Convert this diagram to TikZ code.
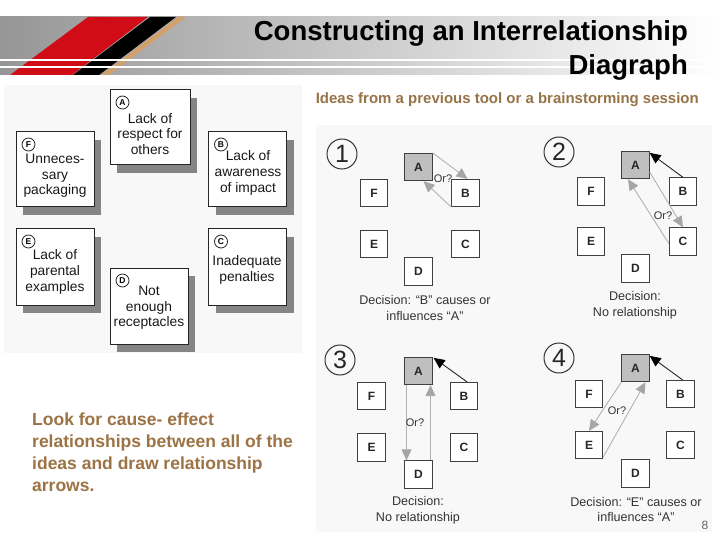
\documentclass[tikz,border=0pt]{standalone}
\usepackage{fontspec}
\setmainfont{Liberation Sans}
\usetikzlibrary{arrows.meta,shadows,calc}
\definecolor{brownt}{RGB}{155,115,68}
\definecolor{subbrown}{RGB}{150,116,72}
\definecolor{panelbg}{RGB}{248,248,248}
\definecolor{redst}{RGB}{208,12,22}
\definecolor{tanst}{RGB}{210,160,110}
\definecolor{bandgray}{RGB}{150,150,150}
\begin{document}
\begin{tikzpicture}[x=1pt,y=-1pt,
  card/.style={draw=black!85, line width=1, fill=white, minimum width=78, minimum height=76, inner sep=0,
    drop shadow={shadow xshift=7pt, shadow yshift=-8pt, fill=black!48, opacity=1}},
  cardtxt/.style={align=center, inner sep=0, text=black!90, font=\fontsize{13.8}{15.6}\selectfont},
  letcirc/.style={circle, draw=black!85, line width=0.8, minimum size=13, inner sep=0, font=\bfseries\fontsize{8.5}{8.5}\selectfont},
  sbox/.style={draw=black!75, line width=0.8, fill=white, minimum width=27.5, minimum height=27.5, inner sep=0,
    font=\bfseries\fontsize{12}{12}\selectfont, text=black!85},
  abox/.style={sbox, fill=black!25},
  numcirc/.style={circle, draw=black!80, line width=1, minimum size=30, inner sep=0, font=\fontsize{25}{25}\selectfont, text=black!85},
  garrow/.style={draw=black!30, line width=0.9, -{Triangle[length=11pt,width=10pt,color=black!35,fill=black!35]}},
  barrow/.style={draw=black!85, line width=0.9, -{Triangle[length=11pt,width=10pt,color=black,fill=black]}},
  ortext/.style={inner sep=0, font=\fontsize{11}{11}\selectfont, text=black!80},
  dectext/.style={align=center, inner sep=0, font=\fontsize{12.6}{15.5}\selectfont, text=black!80}
]
\useasboundingbox (0,0) rectangle (720,540);
\fill[white] (0,0) rectangle (720,540);

% header band
\shade[left color=bandgray, right color=white] (0,17) rectangle (720,75);
\fill[redst] (88,17) -- (148,17) -- (72,75) -- (10,75) -- cycle;
\fill[black] (150,17) -- (176,17) -- (99,75) -- (73,75) -- cycle;
\fill[tanst] (178,17) -- (186,17) -- (109,75) -- (101,75) -- cycle;
\draw[white, line width=1.6] (0,60) -- (720,60);
\draw[white, line width=1.6] (0,67) -- (720,67);
\node[anchor=base east, inner sep=0, font=\bfseries\fontsize{27.5}{27.5}\selectfont] (title1) at (688,41) {Constructing an Interrelationship};
\node[anchor=base east, inner sep=0, font=\bfseries\fontsize{27.5}{27.5}\selectfont] (title2) at (688,75) {Diagraph};
\node[anchor=base east, inner sep=0, text=subbrown, font=\bfseries\fontsize{12}{12}\selectfont] (sub) at (699,104)
  {\resizebox{383pt}{!}{Ideas from a previous tool or a brainstorming session}};

% panel backgrounds
\fill[panelbg] (4,85) rectangle (302,353);
\fill[panelbg] (316,125) rectangle (712,532);

% cards
\node[card] (cA) at (150,127.5) [minimum width=80, minimum height=75] {};
\node[card] (cF) at (55,169.5) [minimum height=75] {};
\node[card] (cB) at (247.5,169.5) [minimum height=75] {};
\node[card] (cE) at (55,267) {};
\node[card] (cC) at (247.5,267) {};
\node[card] (cD) at (149,306) {};

\node[letcirc] (lA) at ($(cA.north west)+(13,13)$) {A};
\node[letcirc] (lF) at ($(cF.north west)+(13,13)$) {F};
\node[letcirc] (lB) at ($(cB.north west)+(13,13)$) {B};
\node[letcirc] (lE) at ($(cE.north west)+(13,13)$) {E};
\node[letcirc] (lC) at ($(cC.north west)+(13,13)$) {C};
\node[letcirc] (lD) at ($(cD.north west)+(13,13)$) {D};

\node[cardtxt] (tA) at (150,134) {Lack of\\respect for\\others};
\node[cardtxt] (tF) at (55,176) {Unneces-\\sary\\packaging};
\node[cardtxt] (tB) at (248,173) {Lack of\\awareness\\of impact};
\node[cardtxt] (tE) at (55,272) {Lack of\\parental\\examples};
\node[cardtxt] (tC) at (247,270) {Inadequate\\penalties};
\node[cardtxt] (tD) at (149,308) {Not\\enough\\receptacles};

% bottom-left text
\node[anchor=north west, align=left, inner sep=0, text=brownt, font=\bfseries\fontsize{17.5}{22}\selectfont] (look) at (32,413)
  {Look for cause- effect\\relationships between all of the\\ideas and draw relationship\\arrows.};

% ---- panel 1
\node[numcirc] (n1) at (342,154) {1};
\node[abox] (p1A) at (418.5,167) {A};
\node[sbox] (p1F) at (374,193) {F};
\node[sbox] (p1B) at (465.5,193) {B};
\node[sbox] (p1E) at (374,244) {E};
\node[sbox] (p1C) at (465.5,244) {C};
\node[sbox] (p1D) at (418.5,271.5) {D};
\draw[garrow] (p1A.north east) -- ($(p1B.north)+(2,0)$);
\draw[garrow] (p1B.south west) -- ($(p1A.south)+(5,0)$);
\node[ortext] (o1) at (443,179) {Or?};
\node[dectext] (d1) at (425,308) {Decision: “B” causes or\\influences “A”};

% ---- panel 2
\node[numcirc] (n2) at (559,152) {2};
\node[abox] (p2A) at (635.5,165) {A};
\node[sbox] (p2F) at (591,191.5) {F};
\node[sbox] (p2B) at (683,191.5) {B};
\node[sbox] (p2E) at (591,241.5) {E};
\node[sbox] (p2C) at (683,241.5) {C};
\node[sbox] (p2D) at (635.5,268.5) {D};
\draw[barrow] (p2B.north) -- ($(p2A.north east)+(0,2)$);
\draw[garrow] ($(p2A.east)+(0,7)$) -- (p2C.north);
\draw[garrow] ($(p2C.west)+(0,2)$) -- ($(p2A.south)+(-7.5,0)$);
\node[ortext] (o2) at (663,216) {Or?};
\node[dectext] (d2) at (635,305) {Decision:\\No relationship};

% ---- panel 3
\node[numcirc] (n3) at (340,360) {3};
\node[abox] (p3A) at (418.5,371) {A};
\node[sbox] (p3F) at (371.5,396) {F};
\node[sbox] (p3B) at (464,396) {B};
\node[sbox] (p3E) at (371.5,447.5) {E};
\node[sbox] (p3C) at (464,447.5) {C};
\node[sbox] (p3D) at (418.5,474.5) {D};
\draw[barrow] ($(p3B.north)+(3,0)$) -- ($(p3A.north east)+(1,1)$);
\draw[garrow] ($(p3A.south)+(-12,0)$) -- ($(p3D.north)+(-12,0)$);
\draw[garrow] ($(p3D.north)+(12,0)$) -- ($(p3A.south)+(12,0)$);
\node[ortext] (o3) at (415,423) {Or?};
\node[dectext] (d3) at (418,510) {Decision:\\No relationship};

% ---- panel 4
\node[numcirc] (n4) at (559,358) {4};
\node[abox] (p4A) at (635.5,368) {A};
\node[sbox] (p4F) at (589,394) {F};
\node[sbox] (p4B) at (680.5,394) {B};
\node[sbox] (p4E) at (589,445) {E};
\node[sbox] (p4C) at (680.5,445) {C};
\node[sbox] (p4D) at (635.5,473.5) {D};
\draw[barrow] ($(p4B.north)+(2,0)$) -- ($(p4A.north east)+(0,2)$);
\draw[garrow] (p4A.south west) -- (p4E.north);
\draw[garrow] ($(p4E.south east)+(0,-2)$) -- ($(p4A.south)+(10,0)$);
\node[ortext] (o4) at (617,411) {Or?};
\node[dectext] (d4) at (636,509.5) {Decision: “E” causes or\\influences “A”};

\node[inner sep=0, text=black!60, font=\fontsize{12}{12}\selectfont] (pg) at (705,525) {8};
\end{tikzpicture}
\end{document}
